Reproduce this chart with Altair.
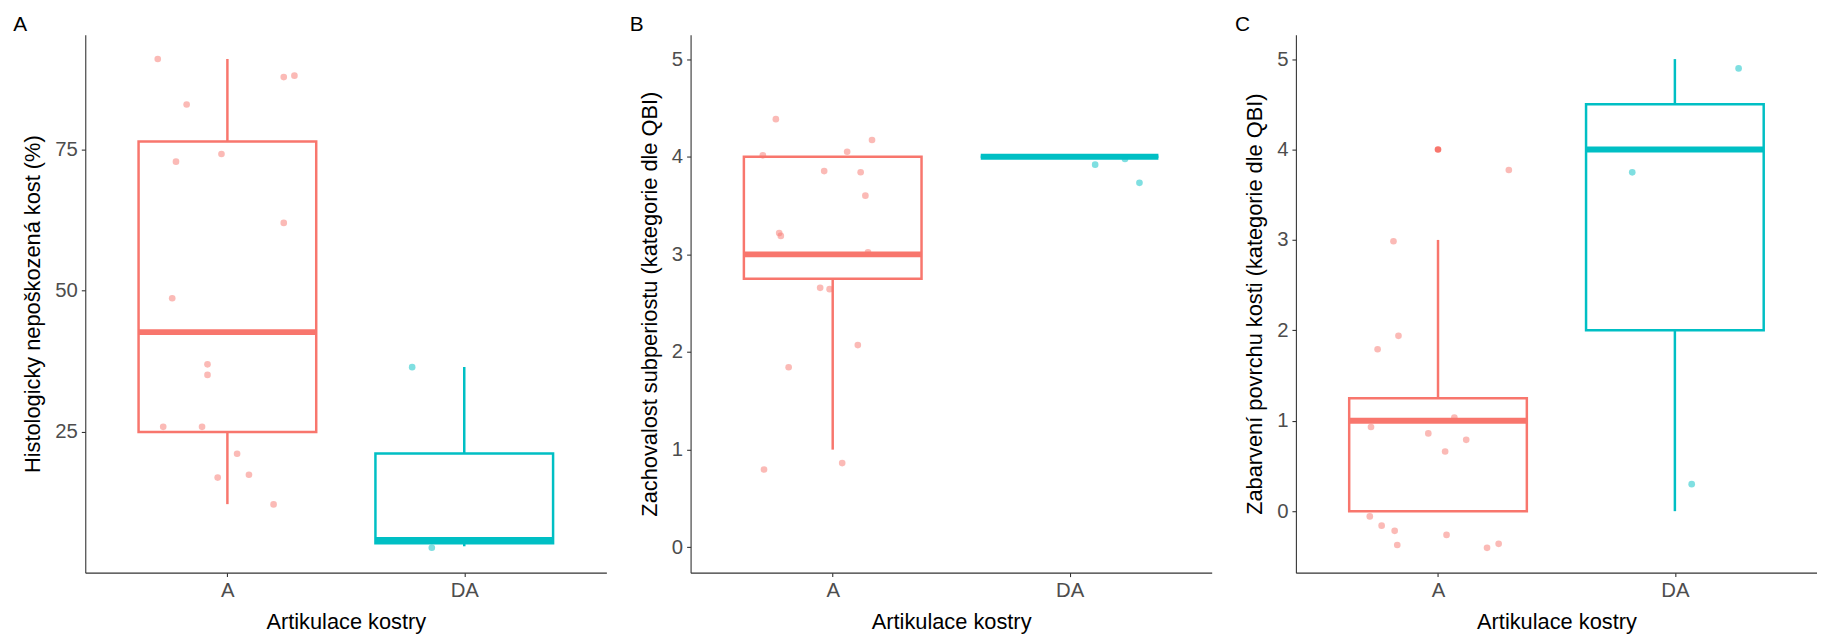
import altair as alt
import pandas as pd

GROUPS = ["A", "DA"]
COLORS = ["#F8766D", "#00BFC4"]
X_TITLE = "Artikulace kostry"

# ---------------- Panel A ----------------
A_pt_group = ["A"] * 16 + ["DA"] * 2
A_pt_value = [90.95, 82.9, 87.75, 88.0, 74.15, 72.8, 61.97, 48.65, 36.97, 35.1,
              25.92, 25.92, 21.15, 16.95, 17.45, 12.2, 36.47, 4.55]
A_pt_jitter = [-0.294, -0.172, 0.238, 0.283, -0.025, -0.217, 0.238, -0.233, -0.084, -0.084,
               -0.271, -0.107, 0.041, -0.041, 0.091, 0.195, -0.22, -0.137]
A_box_lower = [12.25, 4.8]
A_box_q1 = [25.0, 5.35]
A_box_median = [42.66, 5.9]
A_box_q3 = [76.35, 21.2]
A_box_upper = [90.95, 36.5]
A_out_group = []
A_out_value = []
A_ticks = [25, 50, 75]
A_domain = [0.14, 95.24]
A_ytitle = "Histologicky nepoškozená kost (%)"

# ---------------- Panel B ----------------
B_pt_group = ["A"] * 16 + ["DA"] * 3
B_pt_value = [4.385, 4.014, 4.051, 4.171, 3.853, 3.841, 3.601, 3.218, 3.189, 3.02,
              2.657, 2.644, 2.071, 1.844, 0.862, 0.796, 3.919, 3.977, 3.733]
B_pt_jitter = [-0.240, -0.295, 0.061, 0.166, -0.036, 0.118, 0.138, -0.226, -0.219, 0.149,
               -0.053, -0.013, 0.106, -0.186, 0.040, -0.290, 0.108, 0.234, 0.295]
B_box_lower = [1.0, 4.0]
B_box_q1 = [2.75, 4.0]
B_box_median = [3.0, 4.0]
B_box_q3 = [4.0, 4.0]
B_box_upper = [4.0, 4.0]
B_out_group = []
B_out_value = []
B_ticks = [0, 1, 2, 3, 4, 5]
B_domain = [-0.26, 5.25]
B_ytitle = "Zachovalost subperiostu (kategorie dle QBI)"

# ---------------- Panel C ----------------
C_pt_group = ["A"] * 16 + ["DA"] * 3
C_pt_value = [3.774, 2.986, 1.939, 1.791, 1.034, 0.931, 0.860, 0.789, 0.660, -0.058,
              -0.160, -0.218, -0.263, -0.374, -0.406, -0.361, 3.748, 4.897, 0.299]
C_pt_jitter = [0.299, -0.188, -0.167, -0.255, 0.069, -0.283, -0.041, 0.119, 0.030, -0.288,
               -0.238, -0.183, 0.036, -0.172, 0.207, 0.256, -0.180, 0.269, 0.071]
C_box_lower = [0.0, 0.0]
C_box_q1 = [0.0, 2.0]
C_box_median = [1.0, 4.0]
C_box_q3 = [1.25, 4.5]
C_box_upper = [3.0, 5.0]
C_out_group = ["A"]
C_out_value = [4.0]
C_ticks = [0, 1, 2, 3, 4, 5]
C_domain = [-0.68, 5.27]
C_ytitle = "Zabarvení povrchu kosti (kategorie dle QBI)"

PANEL_W = 526
PANEL_H = 543
FONT = "Liberation Sans"

IDX = "indexof(['A','DA'], datum.grp) + 1"


def panel(letter, ytitle, domain, ticks, pg, pv, pj, lo, q1, med, q3, hi, og, ov):
    pts = pd.DataFrame({"grp": pg, "val": pv, "jit": pj})
    box = pd.DataFrame({"grp": GROUPS, "lo": lo, "q1": q1, "med": med, "q3": q3, "hi": hi})
    outs = pd.DataFrame({"grp": og, "val": ov})

    xscale = alt.Scale(domain=[0.4, 2.6], nice=False, zero=False)
    yscale = alt.Scale(domain=domain, nice=False, zero=False)
    xaxis = alt.Axis(values=[1, 2], labelExpr="datum.value == 1 ? 'A' : 'DA'",
                     title=X_TITLE, grid=False)
    yaxis = alt.Axis(values=ticks, title=ytitle, grid=False, format="d")
    color = alt.Color("grp:N", scale=alt.Scale(domain=GROUPS, range=COLORS), legend=None)

    points = alt.Chart(pts).transform_calculate(
        xp=IDX + " + datum.jit"
    ).mark_circle(size=45, opacity=0.5).encode(
        x=alt.X("xp:Q", scale=xscale, axis=xaxis),
        y=alt.Y("val:Q", scale=yscale, axis=yaxis),
        color=color,
    )

    base = alt.Chart(box).transform_calculate(
        xc=IDX, xl=IDX + " - 0.375", xr=IDX + " + 0.375"
    )
    wlow = base.mark_rule(strokeWidth=2.5).encode(
        x=alt.X("xc:Q", scale=xscale), y=alt.Y("lo:Q", scale=yscale), y2="q1:Q", color=color)
    whigh = base.mark_rule(strokeWidth=2.5).encode(
        x=alt.X("xc:Q", scale=xscale), y=alt.Y("q3:Q", scale=yscale), y2="hi:Q", color=color)
    rect = base.mark_rect(fillOpacity=0, strokeWidth=2.5).encode(
        x=alt.X("xl:Q", scale=xscale), x2="xr:Q",
        y=alt.Y("q1:Q", scale=yscale), y2="q3:Q",
        stroke=alt.Stroke("grp:N", scale=alt.Scale(domain=GROUPS, range=COLORS), legend=None),
    )
    median = base.mark_rule(strokeWidth=6).encode(
        x=alt.X("xl:Q", scale=xscale), x2="xr:Q",
        y=alt.Y("med:Q", scale=yscale), color=color)

    layers = [points, wlow, whigh, rect, median]
    if len(og):
        outp = alt.Chart(outs).transform_calculate(xc=IDX).mark_circle(size=45, opacity=1).encode(
            x=alt.X("xc:Q", scale=xscale), y=alt.Y("val:Q", scale=yscale), color=color)
        layers.append(outp)

    return alt.layer(*layers).properties(
        width=PANEL_W, height=PANEL_H,
        title=alt.Title(letter, anchor="start", fontSize=21, fontWeight="normal",
                        color="black", dx=-9, offset=0, baseline="top", font=FONT),
    )


pA = panel("A", A_ytitle, A_domain, A_ticks, A_pt_group, A_pt_value, A_pt_jitter,
           A_box_lower, A_box_q1, A_box_median, A_box_q3, A_box_upper, A_out_group, A_out_value)
pB = panel("B", B_ytitle, B_domain, B_ticks, B_pt_group, B_pt_value, B_pt_jitter,
           B_box_lower, B_box_q1, B_box_median, B_box_q3, B_box_upper, B_out_group, B_out_value)
pC = panel("C", C_ytitle, C_domain, C_ticks, C_pt_group, C_pt_value, C_pt_jitter,
           C_box_lower, C_box_q1, C_box_median, C_box_q3, C_box_upper, C_out_group, C_out_value)

chart = alt.hconcat(pA, pB, pC, spacing=23).properties(
    padding={"left": 5, "top": 3, "right": 0, "bottom": 0}
).configure_view(stroke=None).configure_axis(
    domainColor="#333333", domainWidth=1.1, tickColor="#333333", tickWidth=1.1, tickSize=4,
    labelColor="#4D4D4D", labelFontSize=20.5, labelFont=FONT, labelPadding=4,
    titleColor="black", titleFontSize=22, titleFont=FONT, titleFontWeight="normal",
    titlePadding=10,
).configure_axisX(labelAngle=0, titlePadding=11)

chart.save("out.html", embed_options={"renderer": "svg", "actions": False})
